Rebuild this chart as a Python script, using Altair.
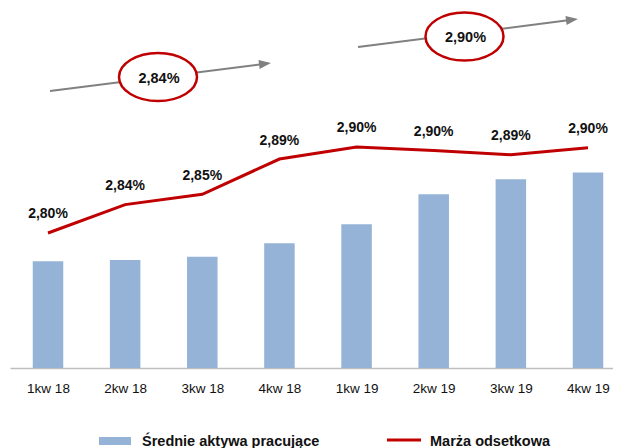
import altair as alt
import pandas as pd

# ---------------- data ----------------
quarters = ["1kw 18", "2kw 18", "3kw 18", "4kw 18", "1kw 19", "2kw 19", "3kw 19", "4kw 19"]
avg_assets = [17.8, 18.0, 18.55, 20.8, 23.95, 28.95, 31.45, 32.6]
net_margin = [2.800, 2.833, 2.845, 2.886, 2.900, 2.896, 2.891, 2.899]
margin_labels = ["2,80%", "2,84%", "2,85%", "2,89%", "2,90%", "2,90%", "2,89%", "2,90%"]
yearly_margin_labels = ["2,84%", "2,90%"]
series_names = ["Średnie aktywa pracujące", "Marża odsetkowa"]

df = pd.DataFrame({
    "idx": list(range(len(quarters))),
    "quarter": quarters,
    "assets": avg_assets,
    "margin": net_margin,
    "label": margin_labels,
})

FONT = "Liberation Sans, Arial, sans-serif"
BLUE = "#95B3D7"
RED = "#C00000"
GREY = "#808080"

x_scale = alt.Scale(domain=[-0.4926, 7.3241], nice=False, zero=False, padding=0)
label_expr = "[" + ",".join("'%s'" % q for q in quarters) + "][datum.value]"
x_axis = alt.Axis(values=list(range(len(quarters))), labelExpr=label_expr, title=None,
                  grid=False, ticks=False, domainColor="#BFBFBF", domainWidth=1.5,
                  labelFont=FONT, labelFontSize=13.5, labelColor="#111111",
                  labelPadding=20, labelBaseline="middle", labelFlush=False,
                  labelOverlap=False)
X = alt.X("idx:Q", scale=x_scale, axis=x_axis)

bars = alt.Chart(df).mark_bar(width=30.5, color=BLUE).encode(
    x=X,
    y=alt.Y("assets:Q", scale=alt.Scale(domain=[0, 60], nice=False, padding=0), axis=None),
)

line_y = alt.Scale(domain=[2.6430, 3.0616], nice=False, zero=False, padding=0)
line = alt.Chart(df).mark_line(color=RED, strokeWidth=3).encode(
    x=X, y=alt.Y("margin:Q", scale=line_y, axis=None))
line_labels = alt.Chart(df).mark_text(font=FONT, fontSize=14, fontWeight="bold",
                                      dy=-18.5, baseline="middle", color="#111111").encode(
    x=X, y=alt.Y("margin:Q", scale=line_y, axis=None), text="label:N")
line_layer = alt.layer(line, line_labels)

# ---------------- decorations (arrows, ellipses, legend) ----------------
dummy = pd.DataFrame({"k": [0]})
ELLIPSE = "M -1 0 A 1 0.615 0 1 0 1 0 A 1 0.615 0 1 0 -1 0 Z"
HEAD = "M 1 0 L -1 -0.75 L -1 0.75 Z"

deco = []
arrows = [((40, 83), (255, 55.75), (148, 69)), ((348, 39), (562, 11.76), (454.5, 28.5))]
for i, (start, head, centre) in enumerate(arrows):
    deco.append(alt.Chart(dummy).mark_rule(color=GREY, strokeWidth=2).encode(
        x=alt.value(start[0]), y=alt.value(start[1]),
        x2=alt.value(head[0]), y2=alt.value(head[1])))
    deco.append(alt.Chart(dummy).mark_point(shape=HEAD, size=144, angle=352.8, filled=True,
                                            fill=GREY, strokeWidth=0, opacity=1).encode(
        x=alt.value(head[0]), y=alt.value(head[1])))
    deco.append(alt.Chart(dummy).mark_point(shape=ELLIPSE, size=6084, filled=True, fill="white",
                                            stroke=RED, strokeWidth=2.5, opacity=1).encode(
        x=alt.value(centre[0]), y=alt.value(centre[1])))
    deco.append(alt.Chart(pd.DataFrame({"t": [yearly_margin_labels[i]]})).mark_text(
        font=FONT, fontSize=14.5, fontWeight="bold", baseline="middle", align="center",
        color="#111111").encode(
        x=alt.value(centre[0] + 1), y=alt.value(centre[1] + 1.5), text="t:N"))

# legend
deco.append(alt.Chart(dummy).mark_rect(color=BLUE).encode(
    x=alt.value(89), x2=alt.value(121), y=alt.value(429), y2=alt.value(437)))
deco.append(alt.Chart(pd.DataFrame({"t": [series_names[0]]})).mark_text(
    font=FONT, fontSize=14.5, fontWeight="bold", align="left", baseline="alphabetic",
    color="#111111").encode(x=alt.value(132), y=alt.value(437.5), text="t:N"))
deco.append(alt.Chart(dummy).mark_rule(color=RED, strokeWidth=3).encode(
    x=alt.value(377), x2=alt.value(411), y=alt.value(432)))
deco.append(alt.Chart(pd.DataFrame({"t": [series_names[1]]})).mark_text(
    font=FONT, fontSize=14.5, fontWeight="bold", align="left", baseline="alphabetic",
    color="#111111").encode(x=alt.value(420), y=alt.value(437.5), text="t:N"))

chart = alt.layer(bars, line_layer, *deco).resolve_scale(y="independent").properties(
    width=603, height=360,
    padding={"left": 2, "top": 0, "right": 0, "bottom": 80},
    autosize=alt.AutoSizeParams(type="none"),
    background="white",
).configure_view(stroke=None)

chart.save("out.html", embed_options={"renderer": "svg", "actions": False})
